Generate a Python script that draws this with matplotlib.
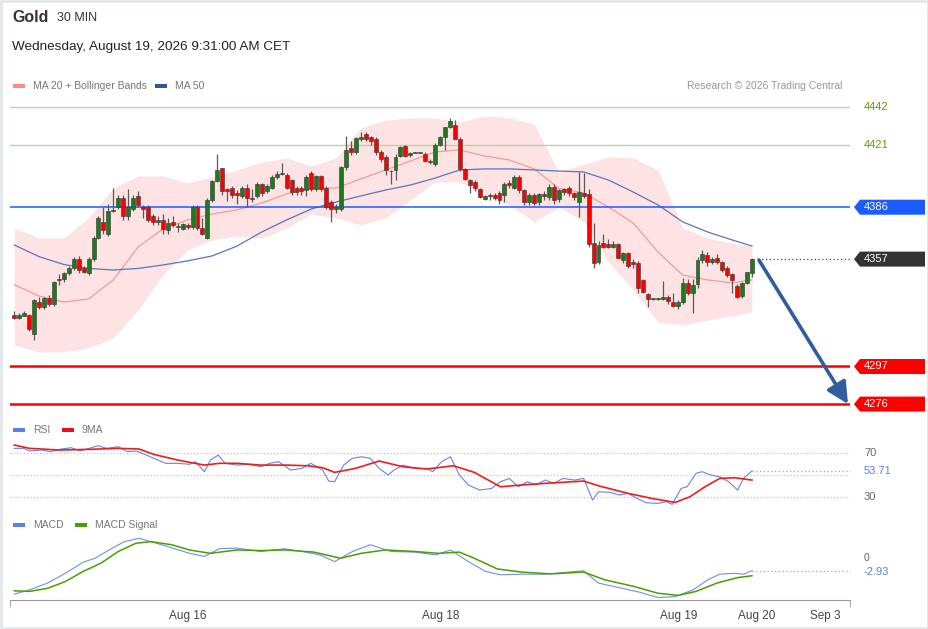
import numpy as np
import matplotlib
matplotlib.use("Agg")
import matplotlib.pyplot as plt
from matplotlib.patches import Polygon, Rectangle

plt.rcParams['font.family'] = ['Liberation Sans', 'DejaVu Sans']

# ---- candles (30 min) ----
opens = [4326, 4324, 4325, 4326, 4315, 4333, 4330, 4335, 4332, 4346,
         4346, 4349, 4352, 4357, 4352, 4349, 4357, 4369, 4378, 4371,
         4384, 4386, 4391, 4381, 4385, 4392, 4386, 4386, 4381, 4378,
         4379, 4373, 4378, 4375, 4374, 4376, 4375, 4386, 4374.5, 4368.6,
         4390, 4400.6, 4407.7, 4396, 4397, 4394, 4392, 4397, 4391, 4392,
         4399, 4395, 4397, 4403, 4404.5, 4404, 4401, 4396.5, 4397, 4395.6,
         4405, 4396, 4403.6, 4397, 4389, 4385, 4385, 4408.6, 4419, 4417,
         4424, 4426.7, 4425.4, 4424, 4417, 4414, 4406, 4406.6, 4414.6, 4420,
         4415, 4416.5, 4416.5, 4416, 4412, 4410, 4421, 4425, 4431, 4432,
         4424, 4407.5, 4401, 4400, 4396.4, 4390.5, 4393, 4393, 4394, 4392.6,
         4399.7, 4396.7, 4402.9, 4395.4, 4389, 4392.6, 4389, 4393.6, 4391.7, 4397.3,
         4390.4, 4396, 4396.7, 4393.8, 4389, 4394, 4393.2, 4365.8, 4355.6, 4365.8,
         4365.3, 4364, 4365.3, 4356.5, 4360.2, 4355.2, 4354.7, 4345.4, 4337.4, 4334.7,
         4334.7, 4334.7, 4336, 4333.3, 4330.8, 4333.3, 4343.5, 4337.9, 4342.9, 4356.5,
         4359.3, 4355.2, 4357.8, 4355.6, 4351.9, 4348.5, 4342.2, 4336.6, 4343.5, 4349]
highs = [4328, 4327, 4328, 4326.5, 4334.5, 4336, 4336, 4337, 4345, 4348.5,
         4350, 4353, 4358, 4359, 4353, 4358, 4370, 4381, 4386, 4388,
         4396.5, 4393, 4393, 4396, 4393, 4395, 4387, 4387, 4382, 4381,
         4382, 4380, 4381, 4377, 4377, 4377, 4387, 4387, 4380, 4391,
         4401, 4415.5, 4408, 4397, 4398, 4395.6, 4398, 4399, 4396, 4400,
         4399.5, 4399, 4404, 4406, 4410.5, 4405, 4402, 4398, 4398, 4404,
         4406, 4404, 4404, 4398, 4390, 4388, 4409, 4426, 4423, 4425,
         4428, 4428, 4426, 4425, 4418, 4415, 4407, 4416, 4420, 4421,
         4417, 4416.8, 4416.8, 4417, 4413, 4422, 4426, 4431, 4436, 4434.5,
         4425, 4408, 4402, 4401, 4397, 4393, 4394, 4394, 4395, 4400,
         4401, 4404, 4404, 4396, 4394, 4394, 4394, 4395, 4399, 4399,
         4396, 4397, 4398, 4394.5, 4405.9, 4405, 4396, 4377, 4367, 4371,
         4368.5, 4367, 4366, 4361, 4361, 4357, 4356, 4346, 4338, 4335,
         4335, 4345, 4337, 4338, 4334, 4346.7, 4346, 4346, 4358, 4362,
         4361, 4358, 4360, 4356, 4353, 4349, 4343, 4344, 4350, 4357.5]
lows = [4323.5, 4323.5, 4325, 4317, 4312, 4329, 4329, 4331, 4331, 4342.5,
        4344, 4348, 4351, 4349, 4349, 4348, 4356, 4368, 4371, 4370,
        4383.5, 4385, 4379, 4379, 4384, 4386, 4380, 4378, 4376, 4376,
        4371, 4371, 4375, 4372, 4373, 4374, 4374, 4373, 4370.5, 4368,
        4389, 4400, 4393, 4389.5, 4391, 4388, 4391, 4386, 4389, 4391,
        4392, 4394, 4396, 4402, 4404, 4396, 4393, 4393, 4393, 4392,
        4395, 4395, 4395, 4385, 4377.5, 4383, 4384, 4407, 4415, 4416,
        4423, 4423, 4421, 4415, 4411, 4404, 4399, 4401, 4414, 4414,
        4414, 4416.2, 4416.2, 4411, 4410, 4409, 4420, 4418, 4430, 4424,
        4406, 4401, 4394, 4395, 4391, 4390, 4390, 4390, 4388, 4389,
        4397, 4396, 4394, 4387, 4387, 4387, 4387, 4390, 4390, 4388,
        4389, 4393, 4392, 4390, 4380.7, 4391, 4364, 4352, 4354, 4363,
        4363, 4363, 4357, 4355, 4352, 4352, 4338, 4338, 4330, 4334.4,
        4334.4, 4334, 4332, 4330, 4329, 4332, 4337, 4327, 4341, 4355,
        4353, 4354, 4354, 4350, 4347, 4338, 4335, 4335, 4343, 4347]
closes = [4324, 4325.5, 4327, 4318, 4334, 4330, 4335.5, 4332, 4344, 4345.5,
          4349, 4352, 4357, 4351, 4350, 4357, 4369, 4380, 4373, 4384,
          4384.5, 4391, 4381, 4386, 4391, 4387, 4385, 4379, 4378, 4379,
          4374, 4377, 4376, 4375.5, 4376.5, 4375, 4386, 4374.5, 4371, 4390,
          4400.6, 4407, 4395, 4395, 4393, 4393, 4397, 4391, 4390.5, 4399,
          4394, 4398, 4403, 4404.5, 4405, 4397, 4394.7, 4394.5, 4395, 4403,
          4396, 4403.6, 4396, 4386, 4385, 4386, 4408.6, 4418, 4417, 4424.5,
          4425.5, 4424, 4423, 4416.6, 4413, 4406.6, 4406.4, 4414, 4419.6, 4414.6,
          4416.5, 4416.5, 4416.5, 4412, 4411, 4420.6, 4425.2, 4430.8, 4434, 4424.3,
          4407.5, 4402, 4398.6, 4396.7, 4391.7, 4392, 4392.5, 4391, 4390, 4399,
          4398.6, 4402.9, 4395.4, 4389, 4393, 4388.5, 4393.6, 4392.3, 4397.3, 4389.9,
          4395.4, 4394.5, 4394.1, 4391.5, 4394.3, 4392.5, 4365.3, 4355, 4365, 4364,
          4364, 4365.6, 4357.8, 4360.2, 4353.4, 4354.1, 4340.7, 4338.5, 4334.7, 4334.7,
          4334.7, 4336, 4333.6, 4330.8, 4333.3, 4343.5, 4337.9, 4342.6, 4356.5, 4359.7,
          4355.2, 4357.1, 4355.2, 4351, 4348.2, 4345.4, 4336, 4343.5, 4349.6, 4357]

# ---- overlays sampled every 5 candles ----
ov_idx = [0, 5, 10, 15, 20, 25, 30, 35, 40, 45, 50, 55, 60, 65, 70, 75,
          80, 85, 90, 95, 100, 105, 110, 115, 120, 125, 130, 135, 140, 145, 149]
ma50 = [4364.9, 4358.4, 4354, 4351.8, 4350.9, 4351.8, 4353.7, 4356, 4358.8, 4364.3,
        4372.2, 4378.9, 4385, 4388.9, 4392.3, 4395.6, 4398.4, 4402.3, 4406.8, 4407.4,
        4407.4, 4406.8, 4406.2, 4405.7, 4401.2, 4394.5, 4387.3, 4377.8, 4372.2, 4367.7, 4364.3]
ma20 = [4342.6, 4336.4, 4333, 4334.7, 4345.4, 4363.8, 4373.8, 4378.9, 4382.2, 4384.5,
        4388.4, 4393.4, 4396.7, 4396.7, 4401.8, 4406.8, 4411.8, 4416.9, 4418, 4414.6,
        4412.4, 4407.4, 4396.5, 4394, 4386.1, 4377.2, 4361, 4348.1, 4345.4, 4343.7, 4345.4]
bb_upper = [4374.4, 4368.8, 4368.8, 4380, 4396.7, 4403.5, 4403.5, 4399.5, 4402.9, 4406.8,
            4411.3, 4413.5, 4409, 4413.5, 4430.3, 4434.7, 4435.9, 4435.9, 4433.6, 4437,
            4435.9, 4432.5, 4405.7, 4410, 4414, 4413.5, 4406.8, 4374.4, 4368.8, 4366, 4364.3]
bb_lower = [4309, 4305.1, 4305.1, 4307.4, 4313, 4328.6, 4348.1, 4362.1, 4367.7, 4369.9,
            4368.8, 4374.4, 4382.2, 4380, 4376.1, 4380, 4390, 4400.1, 4400.1, 4392.8,
            4387.3, 4377.8, 4386, 4378, 4355.4, 4339.8, 4321.9, 4320.2, 4323, 4325.2, 4327.5]

# ---- RSI ----
rsi_idx = [0, 1.9, 3.1, 5.5, 7.3, 9.1, 11.5, 13.3, 15.1, 16.9, 18.7, 21, 22.8, 24.6, 26.4,
           28.2, 30.6, 33, 35.4, 36.6, 38.4, 39.6, 41.2, 42.6, 45, 47.4, 49.8, 51.6, 53.4,
           55.8, 58.1, 59.9, 62.3, 63.5, 64.7, 66.5, 68.3, 70.1, 71.9, 73.7, 75.5, 76.7,
           78.5, 80.9, 83.3, 84.5, 86.3, 88.1, 89.9, 91.7, 94, 96.4, 98.2, 100, 101.8,
           103.6, 105.4, 107.2, 109, 110.8, 113.2, 115, 116.8, 118, 120.4, 122.2, 124,
           125.8, 127.6, 130, 131.7, 132.9, 134.7, 135.9, 137.7, 138.9, 140.7, 142.5,
           144.3, 146.1, 147.3, 149]
rsi_val = [74.2, 74.2, 71.8, 72.7, 71.2, 73.3, 74.8, 71.8, 74.2, 76.6, 74.2, 75.7, 71.2,
           71.8, 68.7, 65.1, 60.6, 60.6, 59.7, 62.1, 53, 63.6, 68.1, 60.6, 59, 59.7, 57.5,
           60.6, 62.1, 54.5, 56, 60.6, 54.5, 44.5, 43.9, 59, 65.1, 66.6, 65.1, 56, 50,
           54.5, 59, 56, 56, 53, 62.1, 66.6, 50, 40.9, 36.3, 37.8, 43.9, 46.9, 39.3,
           43.9, 40.9, 45.4, 42.4, 46.9, 45.4, 46.9, 27.2, 34.8, 34.2, 31.8, 33.3, 28.7,
           24.8, 24.2, 25.7, 23.3, 37.8, 39.3, 51.5, 53, 50, 48.4, 43.9, 36.3, 46.9, 53.71]
rsi_ma_idx = [0, 3.1, 9.1, 15.1, 21, 25.2, 28.2, 33, 38.4, 41.4, 45, 49.8, 54.6, 59.3,
              62.3, 64.7, 68.9, 73.7, 78.5, 83.3, 88.7, 92.9, 98.2, 102.4, 107.2, 115,
              118, 124, 128.8, 133.5, 136.5, 139.5, 142.5, 145.5, 149]
rsi_ma_val = [77.2, 74.2, 72.7, 73.3, 74.2, 73.6, 68.7, 63.6, 59, 60.6, 60.6, 59, 59,
              58.4, 56.6, 52.4, 56, 62.7, 57.5, 55.4, 58.4, 52.4, 39.3, 40.9, 42.4, 44.5,
              40.2, 33.3, 28.7, 25.1, 30.3, 39.3, 46.9, 47.5, 45.4]

# ---- MACD ----
macd_idx = [0, 3.1, 6.7, 10.3, 13.9, 16.3, 19.8, 22.2, 25.2, 27.6, 30.6, 35.4, 38.4, 41.4,
            45, 49.8, 54.6, 58.1, 61.7, 64.7, 68.3, 71.9, 76.1, 80.9, 85.1, 88.1, 91.7,
            95.2, 98.2, 102.4, 107.2, 112, 115, 118, 122.8, 126.4, 130, 133.5, 137.1,
            140.1, 142.5, 145.5, 147.3, 149]
macd_val = [-10.6, -9.2, -7, -3.8, -0.2, 1.1, 4.4, 6.5, 7.6, 6.5, 5.1, 2.7, 1.7, 4.2,
            4.4, 3.3, 4.2, 3.3, 2.2, 0, 3.3, 5.5, 3.3, 3.1, 2.2, 3.8, 0, -3.2, -4.3, -4.1,
            -4.1, -3.4, -3, -7, -8.7, -10, -11.7, -11.4, -9.2, -5.9, -4.1, -3.8, -4.1, -2.93]
sig_idx = [0, 3.1, 6.7, 10.3, 13.9, 17.5, 21, 24.6, 27.6, 31.8, 35.4, 39.6, 45, 49.8,
           54.6, 60.5, 65.9, 70.1, 74.9, 80.9, 85.7, 89.9, 92.9, 97.6, 102.4, 108.4, 115,
           119.2, 125.2, 130, 134.1, 137.7, 141.9, 146.1, 149]
sig_val = [-9.5, -9.7, -8.7, -6.5, -3.2, -0.5, 3.3, 6, 6.5, 5.5, 3.8, 2.7, 3.8, 3.6,
           3.8, 3.1, 1.1, 2.7, 3.8, 3.3, 2.7, 3.1, 1.1, -2.4, -3.4, -4, -3.4, -5.9, -8.1,
           -10.3, -11, -9.7, -7, -5.2, -4.6]

levels = [4442, 4421, 4386, 4357, 4297, 4276]
date_labels = ["Aug 16", "Aug 18", "Aug 19", "Aug 20", "Sep 3"]
date_pos = [35.1, 86.2, 134.1, 150.0, 163.8]

W, H = 929, 629
X0, X1 = -0.87, 168.8
fig = plt.figure(figsize=(W / 100, H / 100), dpi=100)


def px_axes(l, t, r, b):
    a = fig.add_axes([l / W, 1 - b / H, (r - l) / W, (b - t) / H])
    a.set_xlim(X0, X1)
    a.axis('off')
    return a


ax = px_axes(10, 100, 850, 415)
ax.set_ylim(4269.9, 4445.9)
rax = px_axes(10, 440, 850, 510)
rax.set_ylim(18.2, 81.8)
max_ = px_axes(10, 530, 850, 600)
max_.set_ylim(-12.5, 10.3)

# price panel
ax.fill_between(ov_idx, bb_lower, bb_upper, color='#fde3e3', lw=0, zorder=1)
ax.plot(ov_idx, ma20, color='#f59a9a', lw=0.9, zorder=2)
ax.plot(ov_idx, ma50, color='#5577bb', lw=0.9, zorder=2)
ax.axhline(levels[0], color='#b5d89a', lw=1, zorder=1.5)
ax.axhline(levels[1], color='#b5d89a', lw=1, zorder=1.5)
ax.axhline(levels[2], color='#1a5cff', lw=1.1, zorder=2.5)
ax.axhline(levels[4], color='#ff0000', lw=1.8, zorder=2.5)
ax.axhline(levels[5], color='#ff0000', lw=1.8, zorder=2.5)

o = np.array(opens); c = np.array(closes)
idx = np.arange(len(c))
cols = np.where(c >= o, '#1d7a1d', '#ff0000')
ax.vlines(idx, lows, highs, color='#5a5a5a', lw=0.9, zorder=3)
ax.bar(idx, np.maximum(np.abs(c - o), 0.4), bottom=np.minimum(o, c), width=0.8,
       color=cols, edgecolor='#333333', linewidth=0.4, zorder=4)

ax.plot([idx[-1] + 1.2, X1], [levels[3]] * 2, ls=(0, (1, 2)), color='#444444',
        lw=0.9, clip_on=False)
ax.annotate('', xy=(168.4, levels[5]), xytext=(150.4, levels[3] - 0.5),
            arrowprops=dict(arrowstyle='-|>,head_length=1.3,head_width=0.65',
                            color='#2f5e9c', lw=2.6, shrinkA=0, shrinkB=0,
                            mutation_scale=10),
            annotation_clip=False, zorder=6)

# RSI panel
for lv in (70, 50, 30):
    rax.axhline(lv, color='#bbbbbb', lw=0.8, ls=(0, (1, 2)))
rax.plot(rsi_idx, rsi_val, color='#6486e6', lw=0.8)
rax.plot(rsi_ma_idx, rsi_ma_val, color='#f01c1c', lw=1.2)
rax.plot([149, X1], [rsi_val[-1]] * 2, color='#8aa4ea', lw=0.9, ls=(0, (1, 2)),
         clip_on=False)

# MACD panel
max_.plot(macd_idx, macd_val, color='#6f90e6', lw=0.8)
max_.plot(sig_idx, sig_val, color='#4a9e00', lw=1.1)
max_.plot([149, X1], [macd_val[-1]] * 2, color='#8aa4ea', lw=0.9, ls=(0, (1, 2)),
          clip_on=False)
max_.axis('on')
for s in ('top', 'left', 'right'):
    max_.spines[s].set_visible(False)
max_.spines['bottom'].set_color('#9a9a9a')
max_.set_yticks([])
max_.set_xticks(date_pos, date_labels)
max_.tick_params(axis='x', length=0, pad=7, labelsize=8.5, labelcolor='#444444')
max_.set_xticks([X0, X1], minor=True)
max_.tick_params(axis='x', which='minor', length=5, color='#9a9a9a')

# overlay in pixel units
ov = fig.add_axes([0, 0, 1, 1], zorder=10)
ov.set_xlim(0, W)
ov.set_ylim(H, 0)
ov.axis('off')
ov.patch.set_visible(False)


def ypx(a, v):
    return H - a.transData.transform((0, v))[1]


ov.add_patch(Rectangle((1, 1), W - 2, H - 2, fill=False, ec='#e3e7ec', lw=2))
ov.text(12, 18, "Gold", fontsize=11.5, fontweight='bold', color='#333333', va='center')
ov.text(57, 18, "30 MIN", fontsize=9, color='#333333', va='center')
ov.text(12, 47, "Wednesday, August 19, 2026 9:31:00 AM CET", fontsize=9.7,
        color='#222222', va='center')


def legend_item(x, y, col, label):
    ov.add_patch(Rectangle((x, y - 2), 12, 4, color=col, lw=0))
    ov.text(x + 20, y, label, fontsize=7.5, color='#777777', va='center')


legend_item(13, 86, '#ff8a8a', "MA 20 + Bollinger Bands")
legend_item(155, 86, '#2f5a9a', "MA 50")
legend_item(13, 430, '#5b80e6', "RSI")
legend_item(62, 430, '#ee1111', "9MA")
legend_item(13, 525, '#5b80e6', "MACD")
legend_item(75, 525, '#44a000', "MACD Signal")
ov.text(842, 86, "Research \u00a9 2026 Trading Central", fontsize=7.5,
        color='#999999', va='center', ha='right')

for lv in levels[:2]:
    ov.text(864, ypx(ax, lv), str(lv), fontsize=8, color='#55a000', va='center')


def tag(y, txt, col):
    ov.add_patch(Polygon([(854, y), (860, y - 7.5), (925, y - 7.5), (925, y + 7.5),
                          (860, y + 7.5)], closed=True, color=col, lw=0))
    ov.text(864, y, txt, fontsize=8, color='white', va='center')


tag(ypx(ax, levels[2]), str(levels[2]), '#1a5cff')
tag(ypx(ax, levels[3]), str(levels[3]), '#333333')
tag(ypx(ax, levels[4]), str(levels[4]), '#ff0000')
tag(ypx(ax, levels[5]), str(levels[5]), '#ff0000')

ov.text(864, ypx(rax, 70), "70", fontsize=8, color='#666666', va='center')
ov.text(864, ypx(rax, 30), "30", fontsize=8, color='#666666', va='center')
ov.text(864, ypx(rax, rsi_val[-1]), "53.71", fontsize=8, color='#5b80e6', va='center')
ov.text(864, ypx(max_, 0) - 4, "0", fontsize=7.5, color='#666666', va='center')
ov.text(864, ypx(max_, macd_val[-1]) + 1, "-2.93", fontsize=8, color='#5b80e6',
        va='center')

fig.savefig("out.png", dpi=100)
